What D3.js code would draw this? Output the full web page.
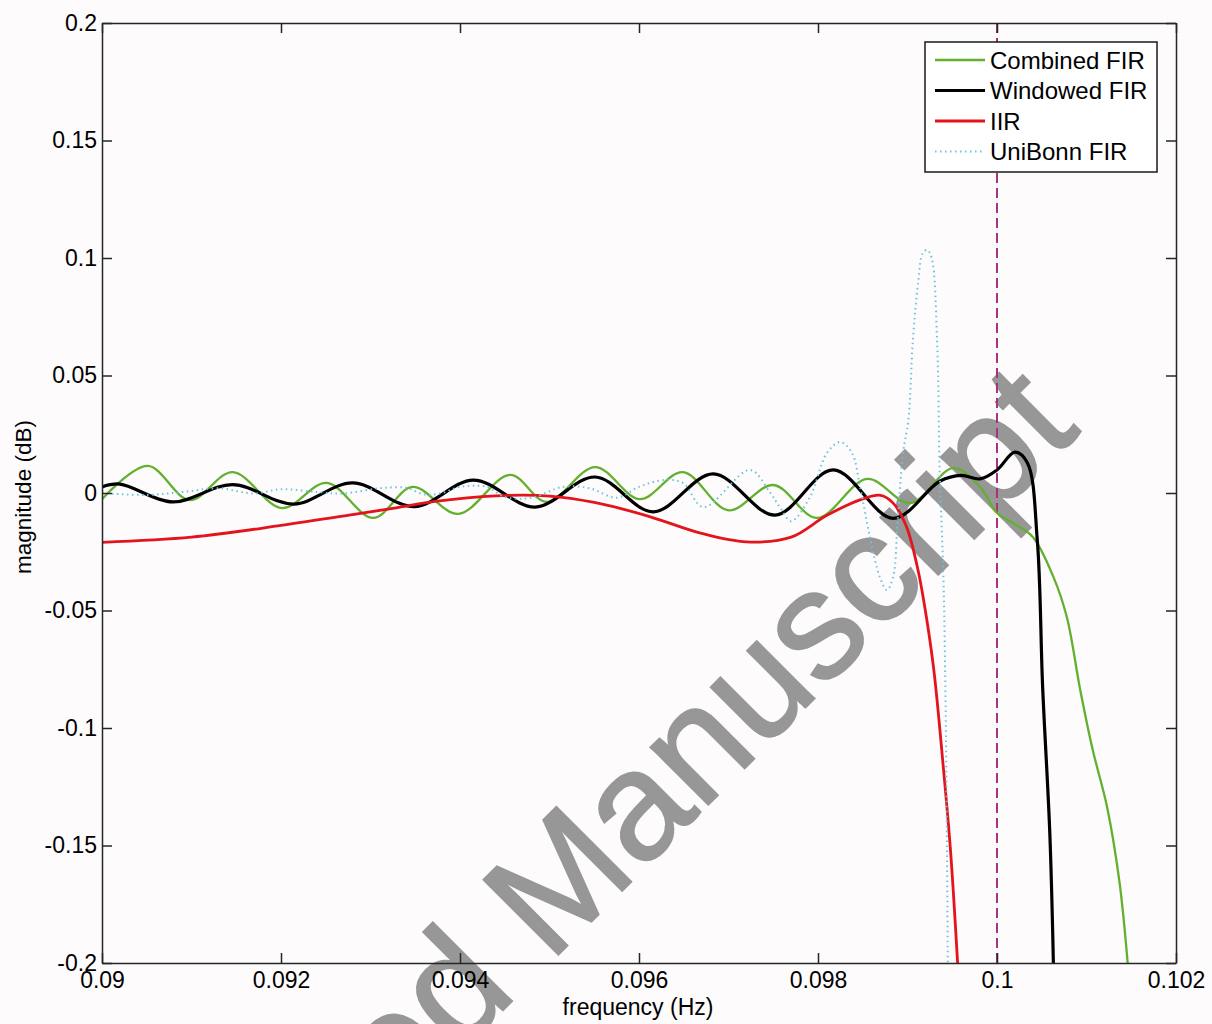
<!DOCTYPE html>
<html>
<head>
<meta charset="utf-8">
<script src="https://cdn.jsdelivr.net/npm/d3@7"></script>
<style>
  body { margin: 0; background: #fdfbfc; }
  svg { display: block; }
  text { font-family: "Liberation Sans", Arial, Helvetica, sans-serif; }
</style>
</head>
<body>
<div id="chart"></div>
<script>
var width = 1212;
var height = 1024;
var margin = { top: 23, right: 36, bottom: 61, left: 102 };

// tick values and labels
var xTickValues = [0.09, 0.092, 0.094, 0.096, 0.098, 0.1, 0.102];
var xTickLabels = ["0.09", "0.092", "0.094", "0.096", "0.098", "0.1", "0.102"];
var yTickValues = [-0.2, -0.15, -0.1, -0.05, 0, 0.05, 0.1, 0.15, 0.2];
var yTickLabels = ["-0.2", "-0.15", "-0.1", "-0.05", "0", "0.05", "0.1", "0.15", "0.2"];

var seriesNames = ["Combined FIR", "Windowed FIR", "IIR", "UniBonn FIR"];
var cutoffFreq = 0.1;

// Combined FIR
var combinedFreq = [0.0900, 0.09051, 0.09098, 0.09146, 0.09201, 0.09251, 0.09303, 0.09347, 0.09398, 0.09456,
  0.09497, 0.09551, 0.09601, 0.09649, 0.09700, 0.09750, 0.09799, 0.09855, 0.09903, 0.09951,
  0.09981, 0.1000, 0.10018, 0.1004, 0.10063, 0.10078, 0.10093, 0.10107, 0.10123, 0.10137, 0.10146];
var combinedMag = [-0.0026, 0.0115, -0.0030, 0.0089, -0.0064, 0.0043, -0.0106, 0.0026, -0.0089, 0.0077,
  -0.0038, 0.0110, -0.0026, 0.0089, -0.0074, 0.0034, -0.0106, 0.0060, -0.0043, 0.0106,
  0.0026, -0.0085, -0.0128, -0.0187, -0.0357, -0.0528, -0.0838, -0.1094, -0.1336, -0.1660, -0.2000];

// Windowed FIR
var windowedFreq = [0.0900, 0.0902, 0.09079, 0.09146, 0.09214, 0.0928, 0.09349, 0.09415, 0.09484, 0.09551,
  0.09616, 0.09683, 0.09752, 0.09817, 0.09884, 0.09936, 0.09960, 0.09981, 0.1000, 0.1002,
  0.10034, 0.10045, 0.10051, 0.10059, 0.10063];
var windowedMag = [0.0026, 0.0038, -0.0038, 0.0036, -0.0047, 0.0043, -0.0058, 0.0055, -0.0060, 0.0068,
  -0.0080, 0.0081, -0.0094, 0.0098, -0.0108, 0.0050, 0.0075, 0.0060, 0.0098, 0.0174,
  0.0128, -0.0200, -0.0826, -0.1447, -0.2000];

// IIR
var iirFreq = [0.0900, 0.0910, 0.0920, 0.0928, 0.0933, 0.0937, 0.0944, 0.0950, 0.0955,
  0.0961, 0.0967, 0.0972, 0.0977, 0.0981, 0.0985, 0.0987, 0.09884, 0.09899, 0.09911,
  0.09918, 0.09929, 0.0994, 0.09948, 0.09956];
var iirMag = [-0.0210, -0.0188, -0.0138, -0.0092, -0.0062, -0.0037, -0.0012, -0.0013, -0.0040,
  -0.0098, -0.0172, -0.0208, -0.0188, -0.0095, -0.0025, -0.0010, -0.0043, -0.0145, -0.0315,
  -0.0455, -0.0740, -0.1166, -0.1519, -0.2000];

// UniBonn FIR
var uniFreq = [0.0900, 0.0905, 0.0909, 0.0913, 0.0917, 0.0920, 0.0924, 0.0927, 0.0931, 0.0934,
  0.0936, 0.0938, 0.0940, 0.0943, 0.0945, 0.0948, 0.09515, 0.09545, 0.09575, 0.0960,
  0.09627, 0.09649, 0.09672, 0.09724, 0.09746, 0.09758, 0.0977, 0.09791, 0.0981, 0.09825,
  0.09838, 0.09847, 0.09858, 0.09869, 0.09877, 0.09884, 0.09889, 0.09895, 0.09901, 0.09906,
  0.09912, 0.09917, 0.09922, 0.09927, 0.09933, 0.09936, 0.0994, 0.09942, 0.09944, 0.09945];
var uniMag = [0.0000, -0.0008, 0.0004, 0.0020, -0.0002, 0.0016, 0.0004, -0.0002, 0.0020, 0.0022,
  -0.0006, 0.0000, 0.0026, 0.0026, -0.0017, -0.0020, 0.0026, 0.0020, -0.0020, 0.0026,
  0.0055, 0.0043, -0.0060, 0.0098, 0.0004, -0.0064, -0.0120, -0.0017, 0.0170, 0.0217,
  0.0170, 0.0026, -0.0187, -0.0357, -0.0413, -0.0357, -0.0115, 0.0170, 0.0310, 0.0650,
  0.0900, 0.1020, 0.1034, 0.1000, 0.0650, 0.0085, -0.0340, -0.0740, -0.1450, -0.2000];

var series = [
  { name: seriesNames[0], freq: combinedFreq, mag: combinedMag, color: "#62b02e", w: 2.3, dash: null },
  { name: seriesNames[1], freq: windowedFreq, mag: windowedMag, color: "#000000", w: 3.2, dash: null },
  { name: seriesNames[2], freq: iirFreq, mag: iirMag, color: "#e3141b", w: 2.8, dash: null },
  { name: seriesNames[3], freq: uniFreq, mag: uniMag, color: "#6cc3dc", w: 2, dash: "1.5,3.5" }
];

var plotW = width - margin.left - margin.right;
var plotH = height - margin.top - margin.bottom;

var svg = d3.select("#chart").append("svg")
  .attr("width", width)
  .attr("height", height);

svg.append("rect").attr("width", width).attr("height", height).attr("fill", "#fdfbfc");

var x = d3.scaleLinear().domain([0.09, 0.102]).range([margin.left, margin.left + plotW]);
var y = d3.scaleLinear().domain([-0.2, 0.2]).range([margin.top + plotH, margin.top]);

svg.append("defs").append("clipPath").attr("id", "plotClip")
  .append("rect")
  .attr("x", margin.left).attr("y", margin.top)
  .attr("width", plotW).attr("height", plotH);

// watermark, sits behind everything else
svg.append("text")
  .attr("transform", "translate(1082,431) rotate(-45)")
  .attr("text-anchor", "end")
  .attr("font-size", 154)
  .attr("fill", "#979797")
  .attr("stroke", "#979797")
  .attr("stroke-width", 2)
  .text("Accepted Manuscript");

var lines = svg.append("g").attr("clip-path", "url(#plotClip)");

// cutoff marker
lines.append("line")
  .attr("x1", x(cutoffFreq)).attr("x2", x(cutoffFreq))
  .attr("y1", margin.top).attr("y2", margin.top + plotH)
  .attr("stroke", "#a8327e")
  .attr("stroke-width", 2)
  .attr("stroke-dasharray", "10,5");

var line = d3.line()
  .x(function(d) { return x(d[0]); })
  .y(function(d) { return y(d[1]); })
  .curve(d3.curveCatmullRom.alpha(0.5));

series.forEach(function(s) {
  var pts = s.freq.map(function(f, i) { return [f, s.mag[i]]; });
  var p = lines.append("path")
    .attr("d", line(pts))
    .attr("fill", "none")
    .attr("stroke", s.color)
    .attr("stroke-width", s.w)
    .attr("stroke-linejoin", "round");
  if (s.dash) p.attr("stroke-dasharray", s.dash);
});

// axes
var axisColor = "#262626";
function styleAxis(g) {
  g.select(".domain").attr("stroke", axisColor).attr("stroke-width", 1.5);
  g.selectAll(".tick line").attr("stroke", axisColor).attr("stroke-width", 1.5);
  g.selectAll(".tick text").attr("fill", "#000").attr("font-size", 23)
    .attr("font-family", "'Liberation Sans', Arial, sans-serif");
}

svg.append("g")
  .attr("transform", "translate(0," + (margin.top + plotH) + ")")
  .call(d3.axisBottom(x).tickValues(xTickValues)
    .tickFormat(function(d, i) { return xTickLabels[i]; })
    .tickSizeInner(-10).tickSizeOuter(0).tickPadding(9))
  .call(styleAxis);

svg.append("g")
  .attr("transform", "translate(0," + margin.top + ")")
  .call(d3.axisTop(x).tickValues(xTickValues).tickFormat("")
    .tickSizeInner(-10).tickSizeOuter(0))
  .call(styleAxis);

svg.append("g")
  .attr("transform", "translate(" + margin.left + ",0)")
  .call(d3.axisLeft(y).tickValues(yTickValues)
    .tickFormat(function(d, i) { return yTickLabels[i]; })
    .tickSizeInner(-10).tickSizeOuter(0).tickPadding(5))
  .call(styleAxis);

svg.append("g")
  .attr("transform", "translate(" + (margin.left + plotW) + ",0)")
  .call(d3.axisRight(y).tickValues(yTickValues).tickFormat("")
    .tickSizeInner(-10).tickSizeOuter(0))
  .call(styleAxis);

// axis titles
svg.append("text")
  .attr("x", 638)
  .attr("y", 1015)
  .attr("text-anchor", "middle")
  .attr("font-size", 23)
  .text("frequency (Hz)");

svg.append("text")
  .attr("transform", "translate(31,497) rotate(-90)")
  .attr("text-anchor", "middle")
  .attr("font-size", 22.5)
  .text("magnitude (dB)");

// legend
var legend = svg.append("g").attr("transform", "translate(925,42)");
legend.append("rect")
  .attr("width", 232).attr("height", 130)
  .attr("fill", "#ffffff")
  .attr("stroke", "#1a1a1a")
  .attr("stroke-width", 1.5);

series.forEach(function(s, i) {
  var ly = 18 + i * 30.5;
  legend.append("line")
    .attr("x1", 10).attr("x2", 60)
    .attr("y1", ly).attr("y2", ly)
    .attr("stroke", s.color)
    .attr("stroke-width", s.w)
    .attr("stroke-dasharray", s.dash);
  legend.append("text")
    .attr("x", 65).attr("y", ly + 8.5)
    .attr("font-size", 24)
    .text(s.name);
});
</script>
</body>
</html>
